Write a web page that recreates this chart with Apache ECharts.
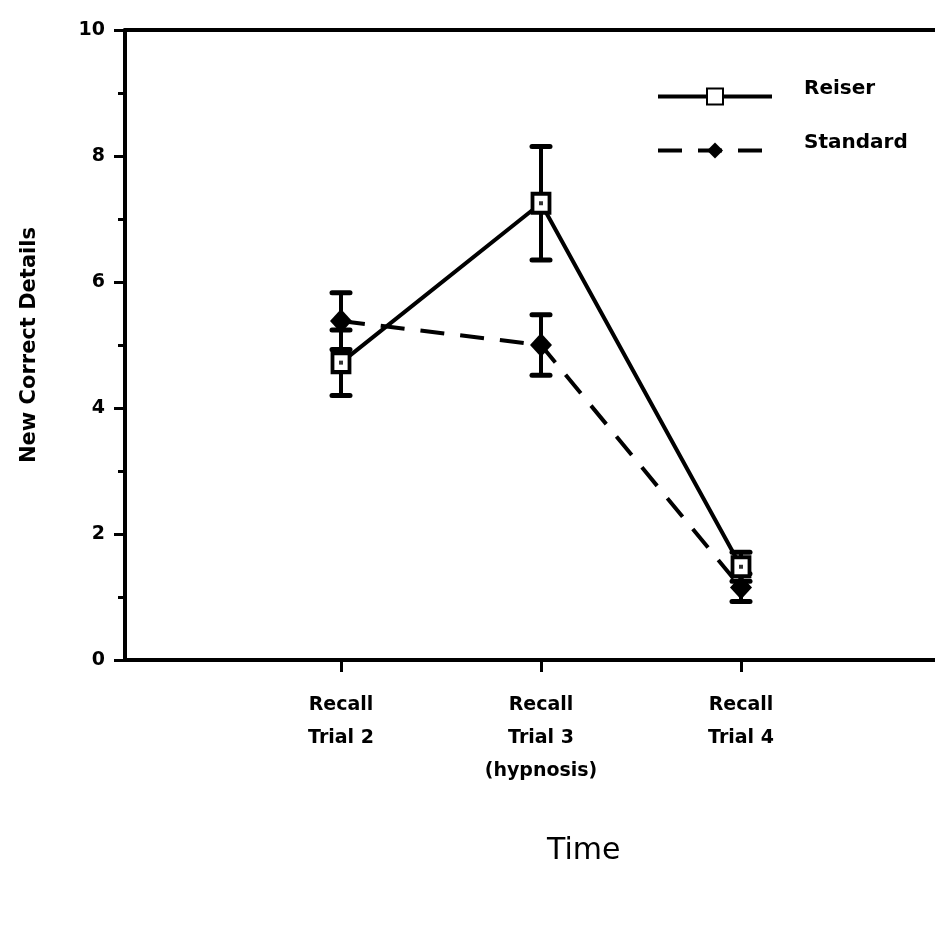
<!DOCTYPE html>
<html>
<head>
<meta charset="utf-8">
<script src="https://cdn.jsdelivr.net/npm/echarts@6/dist/echarts.min.js"></script>
<style>
  html, body { margin: 0; padding: 0; background: #fff; }
  #chart { width: 935px; height: 933px; }
</style>
</head>
<body>
<div id="chart"></div>
<script>
// Recall trials (x positions 1..3) and their axis labels
const trialPos = [1, 2, 3];
const trialLabels = ['Recall\nTrial 2', 'Recall\nTrial 3\n(hypnosis)', 'Recall\nTrial 4'];

// Mean new correct details per group
const reiserMean = [4.72, 7.25, 1.48];
const standardMean = [5.38, 5.0, 1.15];

// Error bar half-widths
const reiserErr = [0.52, 0.9, 0.23];
const standardErr = [0.45, 0.48, 0.22];

const yTicks = [0, 2, 4, 6, 8, 10];

const FONT = 'DejaVu Sans';

function pairs(vals) {
  return trialPos.map((x, i) => [x, vals[i]]);
}
function errRows(vals, errs) {
  return trialPos.map((x, i) => [x, vals[i] - errs[i], vals[i] + errs[i]]);
}

function errorBarRender(params, api) {
  const x = api.value(0);
  const lo = api.coord([x, api.value(1)]);
  const hi = api.coord([x, api.value(2)]);
  const half = 9;
  const st = { stroke: '#000', lineWidth: 4 };
  return {
    type: 'group',
    children: [
      { type: 'line', shape: { x1: lo[0], y1: lo[1], x2: hi[0], y2: hi[1] }, style: st },
      { type: 'line', shape: { x1: lo[0] - half, y1: lo[1], x2: lo[0] + half, y2: lo[1] }, style: Object.assign({}, st, { lineWidth: 5, lineCap: 'round' }) },
      { type: 'line', shape: { x1: hi[0] - half, y1: hi[1], x2: hi[0] + half, y2: hi[1] }, style: Object.assign({}, st, { lineWidth: 5, lineCap: 'round' }) }
    ]
  };
}

const chart = echarts.init(document.getElementById('chart'));
chart.setOption({
  animation: false,
  backgroundColor: '#fff',
  grid: { left: 125, right: 0, top: 30, bottom: 273, containLabel: false },
  legend: {
    orient: 'vertical',
    left: 651,
    top: 74,
    itemWidth: 114,
    itemHeight: 20,
    itemGap: 19,
    data: ['Reiser', 'Standard'],
    lineStyle: { width: 4 },
    // trailing blank line lifts the label slightly above the key line
    formatter: name => name + '\n',
    textStyle: { fontFamily: FONT, fontSize: 20, fontWeight: 'bold', color: '#000', lineHeight: 15, padding: [0, 0, 0, 27] },
    selectedMode: false
  },
  xAxis: [
    {
      type: 'value',
      min: -0.08,
      max: 3.97,
      splitLine: { show: false },
      axisLine: { show: true, onZero: false, lineStyle: { color: '#000', width: 4 } },
      axisTick: { show: true, customValues: trialPos, length: 12, lineStyle: { color: '#000', width: 3 } },
      axisLabel: {
        customValues: trialPos,
        formatter: v => trialLabels[trialPos.indexOf(Math.round(v))] || '',
        fontFamily: FONT,
        fontSize: 19,
        fontWeight: 'bold',
        lineHeight: 33,
        margin: 29,
        color: '#000'
      }
    },
    {
      type: 'value',
      position: 'top',
      min: -0.08,
      max: 3.97,
      splitLine: { show: false },
      axisLine: { show: true, onZero: false, lineStyle: { color: '#000', width: 4 } },
      axisTick: { show: false },
      axisLabel: { show: false }
    }
  ],
  yAxis: {
    type: 'value',
    min: 0,
    max: 10,
    interval: 2,
    name: 'New Correct Details',
    nameLocation: 'middle',
    nameGap: 85,
    nameTextStyle: { fontFamily: FONT, fontSize: 21, fontWeight: 'bold', color: '#000' },
    splitLine: { show: false },
    axisLine: { show: true, onZero: false, lineStyle: { color: '#000', width: 4 } },
    axisTick: { show: true, length: 11, lineStyle: { color: '#000', width: 3 } },
    minorTick: { show: true, splitNumber: 2, length: 7, lineStyle: { color: '#000', width: 3 } },
    axisLabel: {
      customValues: yTicks,
      fontFamily: FONT, fontSize: 19, fontWeight: 'bold', color: '#000', margin: 20
    }
  },
  graphic: [
    {
      type: 'text',
      left: 547,
      top: 836,
      style: { text: 'Time', font: '30px "DejaVu Sans"', fill: '#000' }
    }
  ],
  series: [
    {
      name: 'Reiser err',
      type: 'custom',
      renderItem: errorBarRender,
      data: errRows(reiserMean, reiserErr),
      z: 1,
      silent: true
    },
    {
      name: 'Standard err',
      type: 'custom',
      renderItem: errorBarRender,
      data: errRows(standardMean, standardErr),
      z: 1,
      silent: true
    },
    {
      name: 'Standard',
      type: 'line',
      data: pairs(standardMean),
      symbol: 'diamond',
      symbolSize: [22, 24],
      itemStyle: { color: '#000' },
      lineStyle: { color: '#000', width: 4, type: [24, 16] },
      z: 3
    },
    {
      name: 'Reiser',
      type: 'line',
      data: pairs(reiserMean),
      symbol: 'rect',
      symbolSize: [17, 19],
      itemStyle: { color: '#fff', borderColor: '#000', borderWidth: 4 },
      lineStyle: { color: '#000', width: 4 },
      z: 4
    },
    {
      name: 'Reiser centre',
      type: 'scatter',
      data: pairs(reiserMean),
      symbol: 'rect',
      symbolSize: 4,
      itemStyle: { color: '#000' },
      z: 5,
      silent: true
    }
  ]
});
</script>
</body>
</html>
